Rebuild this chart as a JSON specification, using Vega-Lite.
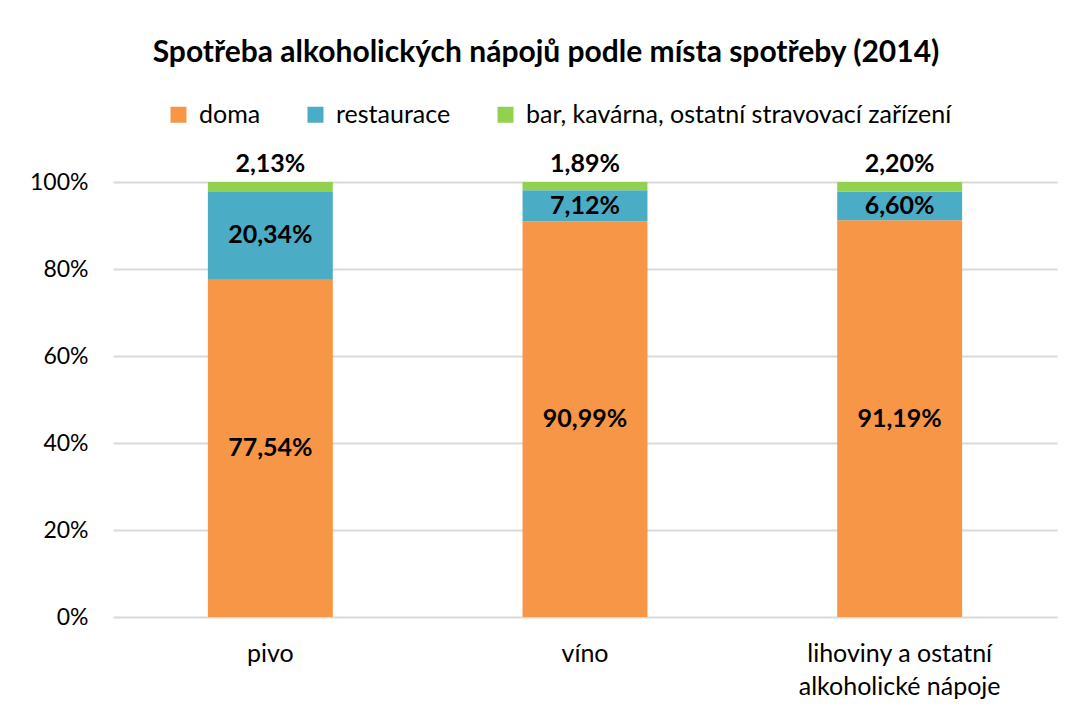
{
  "$schema": "https://vega.github.io/schema/vega-lite/v6.json",
  "autosize": "none",
  "width": 944,
  "height": 435,
  "padding": {"left": 113, "top": 182, "right": 16, "bottom": 96},
  "background": "white",
  "config": {"view": {"stroke": null}, "font": "Lato"},
  "title": {"text": "Spotřeba alkoholických nápojů podle místa spotřeby (2014)", "font": "Lato", "fontSize": 30, "fontWeight": "bold", "color": "black", "anchor": "middle", "dx": -39, "offset": 34},
  "data": {"values": [
    {"cat": "pivo", "place": "doma", "o": 1, "value": 77.54, "lbl": "77,54%"},
    {"cat": "pivo", "place": "restaurace", "o": 2, "value": 20.34, "lbl": "20,34%"},
    {"cat": "pivo", "place": "bar, kavárna, ostatní stravovací zařízení", "o": 3, "value": 2.13, "lbl": "2,13%"},
    {"cat": "víno", "place": "doma", "o": 1, "value": 90.99, "lbl": "90,99%"},
    {"cat": "víno", "place": "restaurace", "o": 2, "value": 7.12, "lbl": "7,12%"},
    {"cat": "víno", "place": "bar, kavárna, ostatní stravovací zařízení", "o": 3, "value": 1.89, "lbl": "1,89%"},
    {"cat": "lihoviny a ostatní alkoholické nápoje", "place": "doma", "o": 1, "value": 91.19, "lbl": "91,19%"},
    {"cat": "lihoviny a ostatní alkoholické nápoje", "place": "restaurace", "o": 2, "value": 6.6, "lbl": "6,60%"},
    {"cat": "lihoviny a ostatní alkoholické nápoje", "place": "bar, kavárna, ostatní stravovací zařízení", "o": 3, "value": 2.2, "lbl": "2,20%"}
  ]},
  "transform": [
    {"stack": "value", "groupby": ["cat"], "sort": [{"field": "o"}], "as": ["v0", "v1"]},
    {"calculate": "(datum.v0 + datum.v1) / 2", "as": "mid"}
  ],
  "encoding": {
    "x": {"field": "cat", "type": "nominal", "sort": null, "title": null,
      "scale": {"paddingInner": 0.603, "paddingOuter": 0.3015},
      "axis": {"domain": false, "ticks": false, "labelAngle": 0, "labelFont": "Lato", "labelFontSize": 25, "labelColor": "black", "labelPadding": 24, "labelLineHeight": 33, "labelBaseline": "top", "labelLimit": 0,
        "labelExpr": "datum.label == 'lihoviny a ostatní alkoholické nápoje' ? ['lihoviny a ostatní', 'alkoholické nápoje'] : datum.label"}}
  },
  "layer": [
    {
      "mark": {"type": "bar"},
      "encoding": {
        "y": {"field": "v0", "type": "quantitative", "title": null,
          "scale": {"domain": [0, 100], "nice": false},
          "axis": {"values": [0, 20, 40, 60, 80, 100], "labelExpr": "datum.value + '%'", "domain": false, "ticks": false, "gridColor": "#d9d9d9", "gridWidth": 2, "labelFont": "Lato", "labelFontSize": 23, "labelColor": "black", "labelPadding": 25}},
        "y2": {"field": "v1"},
        "color": {"field": "place", "type": "nominal",
          "scale": {"domain": ["doma", "restaurace", "bar, kavárna, ostatní stravovací zařízení"], "range": ["#F79646", "#4BACC6", "#92D050"]},
          "legend": {"title": null, "orient": "none", "direction": "horizontal", "legendX": 53, "legendY": -80, "symbolType": "square", "symbolSize": 256, "symbolStrokeWidth": 0, "labelFont": "Lato", "labelFontSize": 25, "labelColor": "black", "labelOffset": 8, "columnPadding": 42, "labelLimit": 0}}
      }
    },
    {
      "transform": [{"filter": "datum.o < 3"}],
      "mark": {"type": "text", "font": "Lato", "fontSize": 25, "fontWeight": "bold", "color": "black", "baseline": "middle"},
      "encoding": {"y": {"field": "mid", "type": "quantitative"}, "text": {"field": "lbl"}}
    },
    {
      "transform": [{"filter": "datum.o == 3"}],
      "mark": {"type": "text", "font": "Lato", "fontSize": 25, "fontWeight": "bold", "color": "black", "baseline": "bottom", "dy": -5},
      "encoding": {"y": {"field": "v1", "type": "quantitative"}, "text": {"field": "lbl"}}
    }
  ]
}
